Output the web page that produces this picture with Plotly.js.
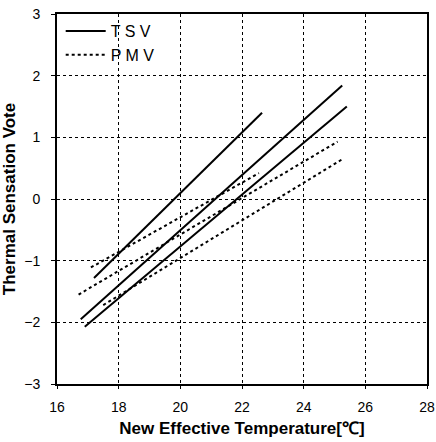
<!DOCTYPE html>
<html>
<head>
<meta charset="utf-8">
<script src="https://cdn.plot.ly/plotly-3.0.1.min.js"></script>
<style>html,body{margin:0;padding:0;background:#fff;}#chart{width:436px;height:442px;}</style>
</head>
<body>
<div id="chart"></div>
<script>
// TSV regression lines (endpoints)
const tsv1X = [17.2, 22.65];
const tsv1Y = [-1.28, 1.40];
const tsv2X = [16.77, 25.25];
const tsv2Y = [-1.95, 1.84];
const tsv3X = [16.9, 25.4];
const tsv3Y = [-2.07, 1.50];
// PMV lines
const pmv1X = [17.1, 22.55];
const pmv1Y = [-1.11, 0.42];
const pmv2X = [16.7, 25.1];
const pmv2Y = [-1.55, 0.93];
const pmv3X = [17.5, 25.3];
const pmv3Y = [-1.72, 0.66];

const xTicks = [16, 18, 20, 22, 24, 26, 28];
const yTicks = [-3, -2, -1, 0, 1, 2, 3];
const seriesNames = ["T S V", "P M V"];

const solid = {color: "#000", width: 2, dash: "solid"};
const dotted = {color: "#000", width: 2, dash: "dot"};

const traces = [
  {x: tsv1X, y: tsv1Y, mode: "lines", line: solid, name: seriesNames[0], legendgroup: "tsv", showlegend: true},
  {x: tsv2X, y: tsv2Y, mode: "lines", line: solid, name: seriesNames[0], legendgroup: "tsv", showlegend: false},
  {x: tsv3X, y: tsv3Y, mode: "lines", line: solid, name: seriesNames[0], legendgroup: "tsv", showlegend: false},
  {x: pmv1X, y: pmv1Y, mode: "lines", line: dotted, name: seriesNames[1], legendgroup: "pmv", showlegend: true},
  {x: pmv2X, y: pmv2Y, mode: "lines", line: dotted, name: seriesNames[1], legendgroup: "pmv", showlegend: false},
  {x: pmv3X, y: pmv3Y, mode: "lines", line: dotted, name: seriesNames[1], legendgroup: "pmv", showlegend: false}
];

const font = "Liberation Sans, Arial, sans-serif";

const layout = {
  width: 436, height: 442,
  margin: {l: 57, r: 9, t: 14, b: 58},
  paper_bgcolor: "#fff", plot_bgcolor: "#fff",
  font: {family: font, color: "#000", size: 12},
  showlegend: true,
  legend: {
    x: 0.01, y: 1.0, xanchor: "left", yanchor: "top",
    bgcolor: "rgba(0,0,0,0)", borderwidth: 0,
    font: {family: font, size: 16, color: "#000"},
    tracegroupgap: 0, itemwidth: 40
  },
  xaxis: {
    range: [16, 28], tickvals: xTicks, ticktext: xTicks.map(String),
    showline: true, linecolor: "#000", linewidth: 2, mirror: true,
    ticks: "outside", ticklen: 3, tickcolor: "#000",
    showgrid: true, gridcolor: "#000", gridwidth: 1, griddash: "dot",
    zeroline: false, ticklabelstandoff: 6,
    tickfont: {family: font, size: 14},
    title: {text: "New Effective Temperature[℃]", font: {family: font, size: 17, weight: "bold"}, standoff: 8}
  },
  yaxis: {
    range: [-3, 3], tickvals: yTicks, ticktext: yTicks.map(v => v < 0 ? "−" + Math.abs(v) : String(v)),
    showline: true, linecolor: "#000", linewidth: 2, mirror: true,
    ticks: "outside", ticklen: 4, tickcolor: "#000",
    showgrid: true, gridcolor: "#000", gridwidth: 1, griddash: "dot",
    zeroline: false, ticklabelstandoff: 8,
    tickfont: {family: font, size: 14},
    title: {text: "Thermal Sensation Vote", font: {family: font, size: 17, weight: "bold"}, standoff: 8}
  }
};

Plotly.newPlot("chart", traces, layout, {displayModeBar: false, staticPlot: true});
</script>
</body>
</html>
